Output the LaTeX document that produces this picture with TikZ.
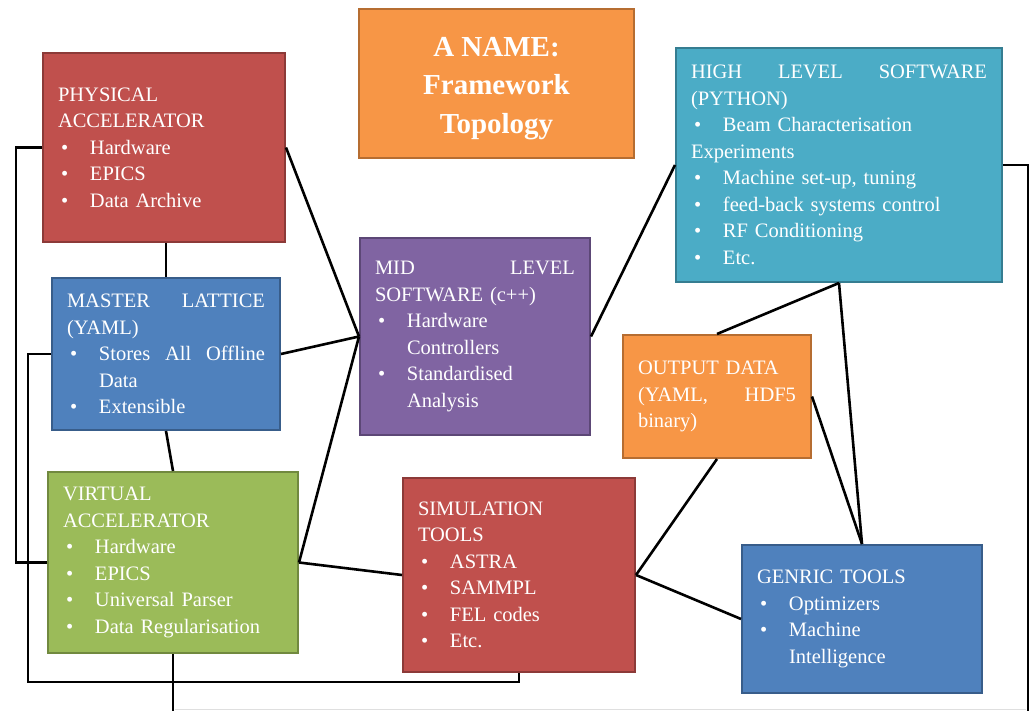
\documentclass[tikz,border=0pt]{standalone}
\usepackage{fontspec}
\setmainfont{Liberation Serif}
\definecolor{cRed}{HTML}{C0504D}\definecolor{cRedD}{HTML}{8C3A38}
\definecolor{cBlue}{HTML}{4F81BD}\definecolor{cBlueD}{HTML}{385D8A}
\definecolor{cGreen}{HTML}{9BBB59}\definecolor{cGreenD}{HTML}{71893F}
\definecolor{cPurple}{HTML}{8064A2}\definecolor{cPurpleD}{HTML}{5C4776}
\definecolor{cTeal}{HTML}{4BACC6}\definecolor{cTealD}{HTML}{357D91}
\definecolor{cOrange}{HTML}{F79646}\definecolor{cOrangeD}{HTML}{B66D31}
\newcommand\bi{\makebox[32pt][l]{\hspace{3pt}\textbullet}}
\newcommand\ind{\hspace*{32pt}}
\tikzset{
  box/.style={draw, line width=2pt, align=left, inner xsep=15pt, inner ysep=4pt,
    font=\fontsize{20.5}{26.5}\selectfont, text=white},
  titlebox/.style={draw=cOrangeD, fill=cOrange, line width=2pt},
  titletext/.style={align=center, inner sep=0pt,
    font=\fontsize{29}{38.5}\selectfont\bfseries, text=white},
  link/.style={line width=2.6pt, black},
}
\begin{document}
\begin{tikzpicture}[x=1pt,y=-1pt]
\useasboundingbox[fill=white] (0,0) rectangle (1029,711);

\node[titlebox, minimum width=275pt, minimum height=149pt] (title) at (496.5,83.5) {};
\node[titletext] (titletxt) at ([yshift=-5pt]title.center) {A NAME:\\Framework\\Topology};

\node[box, fill=cRed, draw=cRedD, text width=212pt, minimum height=189pt] (phys) at (164,147.5)
  {PHYSICAL\\ACCELERATOR\\\bi Hardware\\\bi EPICS\\\bi Data Archive};

\node[box, fill=cBlue, draw=cBlueD, text width=198pt, minimum height=152pt] (mast) at (166,354)
  {MASTER\hfill LATTICE\\(YAML)\\\bi Stores\hfill All\hfill Offline\\\ind Data\\\bi Extensible};

\node[box, fill=cGreen, draw=cGreenD, text width=220pt, minimum height=181pt] (virt) at (173,562.5)
  {VIRTUAL\\ACCELERATOR\\\bi Hardware\\\bi EPICS\\\bi Universal Parser\\\bi Data Regularisation};

\node[box, fill=cPurple, draw=cPurpleD, text width=200pt, minimum height=197pt] (mid) at (475,336.5)
  {MID\hfill LEVEL\\SOFTWARE (c++)\\\bi Hardware\\\ind Controllers\\\bi Standardised\\\ind Analysis};

\node[box, fill=cTeal, draw=cTealD, text width=296pt, minimum height=234pt] (high) at (839,165)
  {HIGH\hfill LEVEL\hfill SOFTWARE\\(PYTHON)\\\bi Beam Characterisation\\Experiments\\\bi Machine set-up, tuning\\\bi feed-back systems control\\\bi RF Conditioning\\\bi Etc.};

\node[box, fill=cOrange, draw=cOrangeD, text width=158pt, minimum height=123pt] (out) at (717,396.5)
  {OUTPUT DATA\\(YAML,\hfill HDF5\\binary)};

\node[box, fill=cBlue, draw=cBlueD, text width=210pt, minimum height=148pt] (gen) at (862,619)
  {GENRIC TOOLS\\\bi Optimizers\\\bi Machine\\\ind Intelligence};

\node[box, fill=cRed, draw=cRedD, text width=202pt, minimum height=194pt] (sim) at (519,575)
  {SIMULATION\\TOOLS\\\bi ASTRA\\\bi SAMMPL\\\bi FEL codes\\\bi Etc.};

\coordinate (virtout) at (173,711);
\coordinate (highout) at (1028,711);
\coordinate (edgeA) at (175,709);
\coordinate (edgeB) at (1026,709);
\draw[gray!25, line width=1pt] (edgeA) -- (edgeB);

\draw[link] (phys.west) -- ++(-26,0) |- (virt.west);
\draw[link] (mast.west) -- ++(-23,0) |- ([yshift=-9pt]sim.south) -- (sim.south);
\draw[link] (mast.north) -- (mast.north |- phys.south);
\draw[link] (mast.south) -- (virt.north);
\draw[link] (virt.south) -- (virtout);
\draw[link] (phys.east) -- (mid.west);
\draw[link] (mast.east) -- (mid.west);
\draw[link] (virt.east) -- (mid.west);
\draw[link] (virt.east) -- (sim.west);
\draw[link] (mid.east) -- (high.west);
\draw[link] (high.south) -- (out.north);
\draw[link] (high.south) -- (gen.north);
\draw[link] (out.east) -- (gen.north);
\draw[link] (out.south) -- (sim.east);
\draw[link] (sim.east) -- (gen.west);
\draw[link] (high.east) -| (highout);
\end{tikzpicture}
\end{document}
